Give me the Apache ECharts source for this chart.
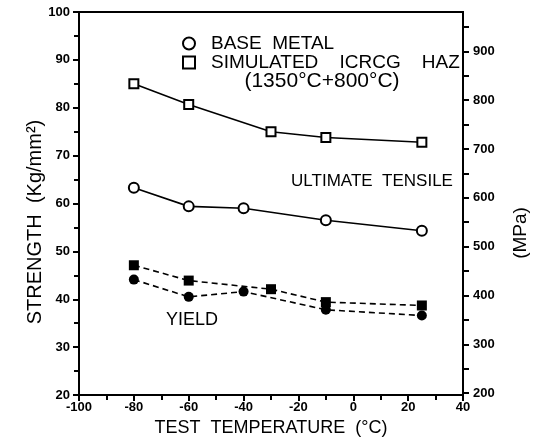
<!DOCTYPE html>
<html>
<head>
<meta charset="utf-8">
<script src="https://cdn.jsdelivr.net/npm/echarts@6/dist/echarts.min.js"></script>
<style>html,body{margin:0;padding:0;background:#fff}#c{width:540px;height:446px}</style>
</head>
<body>
<div id="c"></div>
<script>
// Data
const baseTemps = [-80, -60, -40, -10, 25];
const hazTemps = [-80, -60, -30, -10, 25];
const baseUTS = [63.3, 59.4, 59.0, 56.5, 54.3];
const hazUTS = [85.0, 80.7, 75.0, 73.8, 72.8];
const baseYield = [44.1, 40.5, 41.6, 37.8, 36.6];
const hazYield = [47.1, 43.9, 42.1, 39.4, 38.7];
const mpaLabels = [200, 300, 400, 500, 600, 700, 800, 900];
const mpaTicks = [200, 250, 300, 350, 400, 450, 500, 550, 600, 650, 700, 750, 800, 850, 900, 950];
const KG2MPA = 9.80665;

const pairs = (xs, ys) => xs.map((x, i) => [x, ys[i]]);
const FONT = 'Liberation Sans';

const chart = echarts.init(document.getElementById('c'), null, {renderer: 'canvas'});
const tickLabel = {color: '#000', fontFamily: FONT, fontWeight: 'bold', fontSize: 13};
const axisLine = {show: true, onZero: false, lineStyle: {color: '#000', width: 2}};

chart.setOption({
  animation: false,
  backgroundColor: '#fff',
  grid: {left: 79, right: 77, top: 12, bottom: 51, show: true, borderColor: '#000', borderWidth: 2, backgroundColor: 'transparent'},
  legend: {
    orient: 'vertical', left: 177, top: 29, itemGap: 0, itemWidth: 12, itemHeight: 12,
    textStyle: {color: '#000', fontFamily: FONT, fontSize: 19, padding: [0, 0, 0, 11]},
    data: [
      {name: 'BASE  METAL', icon: 'circle'},
      {name: 'SIMULATED    ICRCG    HAZ', icon: 'rect'}
    ]
  },
  xAxis: {
    type: 'value', min: -100, max: 40, interval: 20,
    axisLine: axisLine,
    axisTick: {show: true, inside: false, length: 6, lineStyle: {color: '#000', width: 2}},
    minorTick: {show: true, splitNumber: 2, length: 5, lineStyle: {color: '#000', width: 2}},
    axisLabel: Object.assign({margin: 6}, tickLabel),
    splitLine: {show: false},
    name: 'TEST  TEMPERATURE  (°C)', nameLocation: 'middle', nameGap: 24,
    nameTextStyle: {color: '#000', fontFamily: FONT, fontSize: 18}
  },
  yAxis: [
    {
      type: 'value', min: 20, max: 100, interval: 10, position: 'left',
      axisLine: axisLine,
      axisTick: {show: true, length: 6, lineStyle: {color: '#000', width: 2}},
      minorTick: {show: true, splitNumber: 2, length: 5, lineStyle: {color: '#000', width: 2}},
      axisLabel: Object.assign({margin: 9}, tickLabel),
      splitLine: {show: false}
    },
    {
      type: 'value', min: 20 * KG2MPA, max: 100 * KG2MPA, position: 'right',
      axisLine: axisLine,
      axisTick: {show: true, length: 6, customValues: mpaTicks, lineStyle: {color: '#000', width: 2}},
      axisLabel: Object.assign({margin: 10, customValues: mpaLabels}, tickLabel),
      splitLine: {show: false}
    }
  ],
  graphic: [
    {type: 'text', x: 35, y: 222, rotation: Math.PI / 2,
     style: {text: 'STRENGTH  (Kg/mm²)', fill: '#000', font: '20px "Liberation Sans"', textAlign: 'center', textVerticalAlign: 'middle'}},
    {type: 'text', x: 521, y: 233, rotation: Math.PI / 2,
     style: {text: '(MPa)', fill: '#000', font: '19px "Liberation Sans"', textAlign: 'center', textVerticalAlign: 'middle'}},
    {type: 'text', x: 322, y: 81,
     style: {text: '(1350°C+800°C)', fill: '#000', font: '21px "Liberation Sans"', textAlign: 'center', textVerticalAlign: 'middle'}},
    {type: 'text', x: 372, y: 181,
     style: {text: 'ULTIMATE  TENSILE', fill: '#000', font: '17px "Liberation Sans"', textAlign: 'center', textVerticalAlign: 'middle'}},
    {type: 'text', x: 192, y: 320,
     style: {text: 'YIELD', fill: '#000', font: '18px "Liberation Sans"', textAlign: 'center', textVerticalAlign: 'middle'}}
  ],
  series: [
    {name: 'base yield', type: 'line', data: pairs(baseTemps, baseYield), symbol: 'circle', symbolSize: 10,
     itemStyle: {color: '#000'}, lineStyle: {color: '#000', width: 1.6, type: [6, 4]}},
    {name: 'haz yield', type: 'line', data: pairs(hazTemps, hazYield), symbol: 'rect', symbolSize: 10,
     itemStyle: {color: '#000'}, lineStyle: {color: '#000', width: 1.6, type: [6, 4]}},
    {name: 'BASE  METAL', type: 'line', data: pairs(baseTemps, baseUTS), symbol: 'circle', symbolSize: 10,
     itemStyle: {color: '#fff', borderColor: '#000', borderWidth: 2}, lineStyle: {color: '#000', width: 1.6}},
    {name: 'SIMULATED    ICRCG    HAZ', type: 'line', data: pairs(hazTemps, hazUTS), symbol: 'rect', symbolSize: 9,
     itemStyle: {color: '#fff', borderColor: '#000', borderWidth: 2}, lineStyle: {color: '#000', width: 1.6}}
  ]
});
</script>
</body>
</html>
